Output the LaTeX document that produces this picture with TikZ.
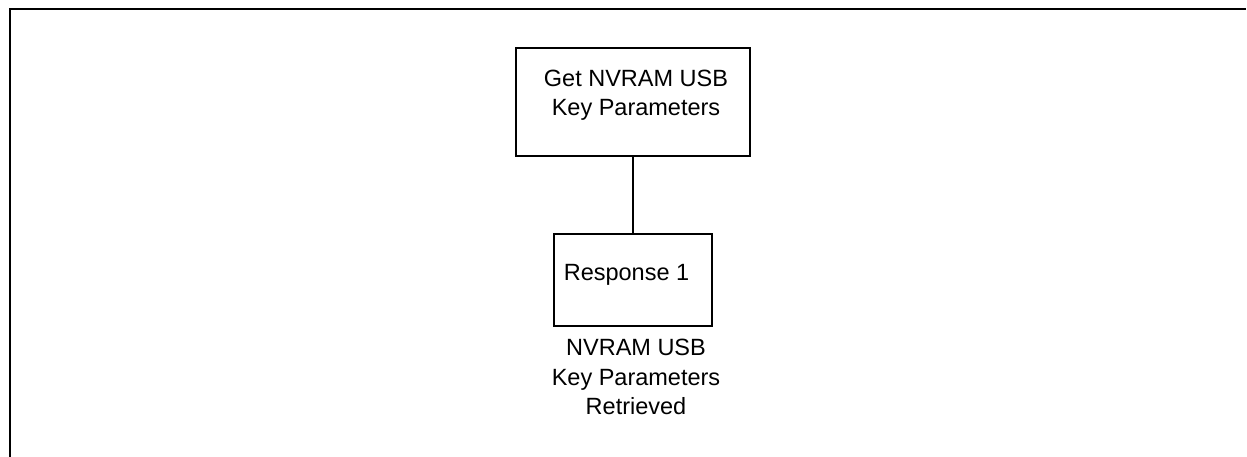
\documentclass[tikz,border=0pt]{standalone}
\usepackage{fontspec}
\setmainfont{Liberation Sans}
\begin{document}
\begin{tikzpicture}[x=1pt,y=-1pt,
  stepbox/.style={draw=black,line width=1.8pt,fill=white,inner sep=0pt},
  txt/.style={inner sep=0pt,align=center,font=\fontsize{23.5}{29.5}\selectfont},
  frameline/.style={draw=black,line width=2pt},
  conn/.style={draw=black,line width=1.8pt}]
\useasboundingbox (0,0) rectangle (1247,457);
% frame
\coordinate (fbl) at (10,458);
\coordinate (ftl) at (10,9);
\coordinate (ftr) at (1246,9);
\draw[frameline] (fbl) -- (ftl) -- (ftr);
% boxes
\node[stepbox,minimum width=234.3pt,minimum height=108.3pt] (get) at (633,102) {};
\node[stepbox,minimum width=158pt,minimum height=92pt] (resp) at (633,280) {};
\draw[conn] (get.south) -- (resp.north);
% texts
\node[txt] (gettxt) at (636,95.3) {Get NVRAM USB\\Key Parameters};
\node[txt] (resptxt) at (626.5,275) {Response 1};
\node[txt] (resplbl) at (636,377) {NVRAM USB\\Key Parameters\\Retrieved};
\end{tikzpicture}
\end{document}
